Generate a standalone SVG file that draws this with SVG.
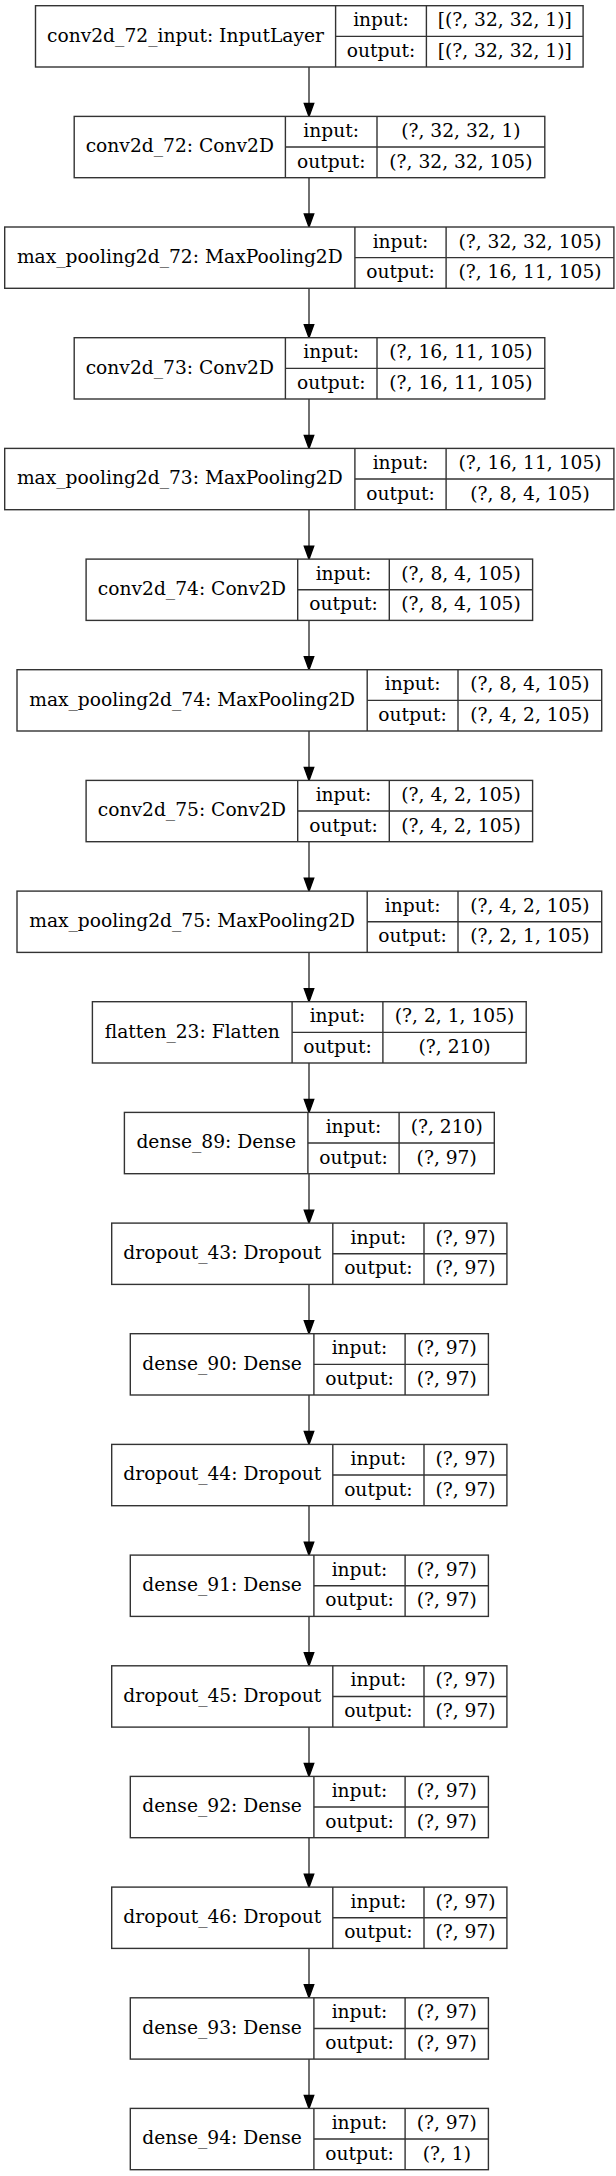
<svg xmlns="http://www.w3.org/2000/svg" width="616" height="2176" viewBox="0 0 616 2176">
<style>
rect.b{fill:#fff;stroke:#333;stroke-width:1.4}
line.s{stroke:#333;stroke-width:1.4}
text{font-family:"DejaVu Serif","Liberation Serif",serif;font-size:18.67px;fill:#000;text-anchor:middle}
.e line{stroke:#333;stroke-width:1.4}
.e polygon{fill:#000;stroke:#000;stroke-width:1.4}
</style>
<rect width="616" height="2176" fill="#fff"/>
<g class="e" id="connectors">
<line x1="309" y1="67" x2="309" y2="103.4"/><polygon points="304.3,103.4 313.7,103.4 309,116.4"/>
<line x1="309" y1="177.7" x2="309" y2="214"/><polygon points="304.3,214 313.7,214 309,227"/>
<line x1="309" y1="288.3" x2="309" y2="324.7"/><polygon points="304.3,324.7 313.7,324.7 309,337.7"/>
<line x1="309" y1="399" x2="309" y2="435.4"/><polygon points="304.3,435.4 313.7,435.4 309,448.4"/>
<line x1="309" y1="509.7" x2="309" y2="546.1"/><polygon points="304.3,546.1 313.7,546.1 309,559.1"/>
<line x1="309" y1="620.4" x2="309" y2="656.7"/><polygon points="304.3,656.7 313.7,656.7 309,669.7"/>
<line x1="309" y1="731" x2="309" y2="767.4"/><polygon points="304.3,767.4 313.7,767.4 309,780.4"/>
<line x1="309" y1="841.7" x2="309" y2="878.1"/><polygon points="304.3,878.1 313.7,878.1 309,891.1"/>
<line x1="309" y1="952.4" x2="309" y2="988.7"/><polygon points="304.3,988.7 313.7,988.7 309,1001.7"/>
<line x1="309" y1="1063" x2="309" y2="1099.4"/><polygon points="304.3,1099.4 313.7,1099.4 309,1112.4"/>
<line x1="309" y1="1173.7" x2="309" y2="1210.1"/><polygon points="304.3,1210.1 313.7,1210.1 309,1223.1"/>
<line x1="309" y1="1284.4" x2="309" y2="1320.7"/><polygon points="304.3,1320.7 313.7,1320.7 309,1333.7"/>
<line x1="309" y1="1395" x2="309" y2="1431.4"/><polygon points="304.3,1431.4 313.7,1431.4 309,1444.4"/>
<line x1="309" y1="1505.7" x2="309" y2="1542.1"/><polygon points="304.3,1542.1 313.7,1542.1 309,1555.1"/>
<line x1="309" y1="1616.4" x2="309" y2="1652.8"/><polygon points="304.3,1652.8 313.7,1652.8 309,1665.8"/>
<line x1="309" y1="1727.1" x2="309" y2="1763.4"/><polygon points="304.3,1763.4 313.7,1763.4 309,1776.4"/>
<line x1="309" y1="1837.7" x2="309" y2="1874.1"/><polygon points="304.3,1874.1 313.7,1874.1 309,1887.1"/>
<line x1="309" y1="1948.4" x2="309" y2="1984.8"/><polygon points="304.3,1984.8 313.7,1984.8 309,1997.8"/>
<line x1="309" y1="2059.1" x2="309" y2="2095.4"/><polygon points="304.3,2095.4 313.7,2095.4 309,2108.4"/>
</g>

<g id="conv2d_72_input" transform="translate(0,5.7)">
<rect class="b" x="35.5" y="0" width="547.6" height="61.3"/>
<line class="s" x1="335.6" y1="0" x2="335.6" y2="61.3"/><line class="s" x1="426.4" y1="0" x2="426.4" y2="61.3"/><line class="s" x1="335.6" y1="30.65" x2="583.1" y2="30.65"/>
<text x="185.5" y="36">conv2d_72_input: InputLayer</text>
<text x="381" y="20.6">input:</text><text x="504.7" y="20.6">[(?, 32, 32, 1)]</text>
<text x="381" y="51.3">output:</text><text x="504.7" y="51.3">[(?, 32, 32, 1)]</text>
</g>

<g id="conv2d_72" transform="translate(0,116.4)">
<rect class="b" x="74.2" y="0" width="470.6" height="61.3"/>
<line class="s" x1="285.4" y1="0" x2="285.4" y2="61.3"/><line class="s" x1="377" y1="0" x2="377" y2="61.3"/><line class="s" x1="285.4" y1="30.65" x2="544.8" y2="30.65"/>
<text x="179.8" y="36">conv2d_72: Conv2D</text>
<text x="331.2" y="20.6">input:</text><text x="460.9" y="20.6">(?, 32, 32, 1)</text>
<text x="331.2" y="51.3">output:</text><text x="460.9" y="51.3">(?, 32, 32, 105)</text>
</g>

<g id="max_pooling2d_72" transform="translate(0,227)">
<rect class="b" x="4.7" y="0" width="609.2" height="61.3"/>
<line class="s" x1="354.9" y1="0" x2="354.9" y2="61.3"/><line class="s" x1="446.1" y1="0" x2="446.1" y2="61.3"/><line class="s" x1="354.9" y1="30.65" x2="613.9" y2="30.65"/>
<text x="179.8" y="36">max_pooling2d_72: MaxPooling2D</text>
<text x="400.5" y="20.6">input:</text><text x="530" y="20.6">(?, 32, 32, 105)</text>
<text x="400.5" y="51.3">output:</text><text x="530" y="51.3">(?, 16, 11, 105)</text>
</g>

<g id="conv2d_73" transform="translate(0,337.7)">
<rect class="b" x="74.2" y="0" width="470.6" height="61.3"/>
<line class="s" x1="285.4" y1="0" x2="285.4" y2="61.3"/><line class="s" x1="377" y1="0" x2="377" y2="61.3"/><line class="s" x1="285.4" y1="30.65" x2="544.8" y2="30.65"/>
<text x="179.8" y="36">conv2d_73: Conv2D</text>
<text x="331.2" y="20.6">input:</text><text x="460.9" y="20.6">(?, 16, 11, 105)</text>
<text x="331.2" y="51.3">output:</text><text x="460.9" y="51.3">(?, 16, 11, 105)</text>
</g>

<g id="max_pooling2d_73" transform="translate(0,448.4)">
<rect class="b" x="4.7" y="0" width="609.2" height="61.3"/>
<line class="s" x1="354.9" y1="0" x2="354.9" y2="61.3"/><line class="s" x1="446.1" y1="0" x2="446.1" y2="61.3"/><line class="s" x1="354.9" y1="30.65" x2="613.9" y2="30.65"/>
<text x="179.8" y="36">max_pooling2d_73: MaxPooling2D</text>
<text x="400.5" y="20.6">input:</text><text x="530" y="20.6">(?, 16, 11, 105)</text>
<text x="400.5" y="51.3">output:</text><text x="530" y="51.3">(?, 8, 4, 105)</text>
</g>

<g id="conv2d_74" transform="translate(0,559.1)">
<rect class="b" x="86.1" y="0" width="446.5" height="61.3"/>
<line class="s" x1="297.7" y1="0" x2="297.7" y2="61.3"/><line class="s" x1="389.3" y1="0" x2="389.3" y2="61.3"/><line class="s" x1="297.7" y1="30.65" x2="532.6" y2="30.65"/>
<text x="191.9" y="36">conv2d_74: Conv2D</text>
<text x="343.5" y="20.6">input:</text><text x="461" y="20.6">(?, 8, 4, 105)</text>
<text x="343.5" y="51.3">output:</text><text x="461" y="51.3">(?, 8, 4, 105)</text>
</g>

<g id="max_pooling2d_74" transform="translate(0,669.7)">
<rect class="b" x="17" y="0" width="584.7" height="61.3"/>
<line class="s" x1="367.2" y1="0" x2="367.2" y2="61.3"/><line class="s" x1="458" y1="0" x2="458" y2="61.3"/><line class="s" x1="367.2" y1="30.65" x2="601.7" y2="30.65"/>
<text x="192.1" y="36">max_pooling2d_74: MaxPooling2D</text>
<text x="412.6" y="20.6">input:</text><text x="529.9" y="20.6">(?, 8, 4, 105)</text>
<text x="412.6" y="51.3">output:</text><text x="529.9" y="51.3">(?, 4, 2, 105)</text>
</g>

<g id="conv2d_75" transform="translate(0,780.4)">
<rect class="b" x="86.1" y="0" width="446.5" height="61.3"/>
<line class="s" x1="297.7" y1="0" x2="297.7" y2="61.3"/><line class="s" x1="389.3" y1="0" x2="389.3" y2="61.3"/><line class="s" x1="297.7" y1="30.65" x2="532.6" y2="30.65"/>
<text x="191.9" y="36">conv2d_75: Conv2D</text>
<text x="343.5" y="20.6">input:</text><text x="461" y="20.6">(?, 4, 2, 105)</text>
<text x="343.5" y="51.3">output:</text><text x="461" y="51.3">(?, 4, 2, 105)</text>
</g>

<g id="max_pooling2d_75" transform="translate(0,891.1)">
<rect class="b" x="17" y="0" width="584.7" height="61.3"/>
<line class="s" x1="367.2" y1="0" x2="367.2" y2="61.3"/><line class="s" x1="458" y1="0" x2="458" y2="61.3"/><line class="s" x1="367.2" y1="30.65" x2="601.7" y2="30.65"/>
<text x="192.1" y="36">max_pooling2d_75: MaxPooling2D</text>
<text x="412.6" y="20.6">input:</text><text x="529.9" y="20.6">(?, 4, 2, 105)</text>
<text x="412.6" y="51.3">output:</text><text x="529.9" y="51.3">(?, 2, 1, 105)</text>
</g>

<g id="flatten_23" transform="translate(0,1001.7)">
<rect class="b" x="92.4" y="0" width="433.8" height="61.3"/>
<line class="s" x1="292.1" y1="0" x2="292.1" y2="61.3"/><line class="s" x1="382.9" y1="0" x2="382.9" y2="61.3"/><line class="s" x1="292.1" y1="30.65" x2="526.2" y2="30.65"/>
<text x="192.3" y="36">flatten_23: Flatten</text>
<text x="337.5" y="20.6">input:</text><text x="454.6" y="20.6">(?, 2, 1, 105)</text>
<text x="337.5" y="51.3">output:</text><text x="454.6" y="51.3">(?, 210)</text>
</g>

<g id="dense_89" transform="translate(0,1112.4)">
<rect class="b" x="124.4" y="0" width="369.9" height="61.3"/>
<line class="s" x1="307.9" y1="0" x2="307.9" y2="61.3"/><line class="s" x1="399.1" y1="0" x2="399.1" y2="61.3"/><line class="s" x1="307.9" y1="30.65" x2="494.3" y2="30.65"/>
<text x="216.2" y="36">dense_89: Dense</text>
<text x="353.5" y="20.6">input:</text><text x="446.7" y="20.6">(?, 210)</text>
<text x="353.5" y="51.3">output:</text><text x="446.7" y="51.3">(?, 97)</text>
</g>

<g id="dropout_43" transform="translate(0,1223.1)">
<rect class="b" x="111.7" y="0" width="395.2" height="61.3"/>
<line class="s" x1="332.8" y1="0" x2="332.8" y2="61.3"/><line class="s" x1="424" y1="0" x2="424" y2="61.3"/><line class="s" x1="332.8" y1="30.65" x2="506.9" y2="30.65"/>
<text x="222.3" y="36">dropout_43: Dropout</text>
<text x="378.4" y="20.6">input:</text><text x="465.5" y="20.6">(?, 97)</text>
<text x="378.4" y="51.3">output:</text><text x="465.5" y="51.3">(?, 97)</text>
</g>

<g id="dense_90" transform="translate(0,1333.7)">
<rect class="b" x="130.3" y="0" width="358.1" height="61.3"/>
<line class="s" x1="313.9" y1="0" x2="313.9" y2="61.3"/><line class="s" x1="405.1" y1="0" x2="405.1" y2="61.3"/><line class="s" x1="313.9" y1="30.65" x2="488.4" y2="30.65"/>
<text x="222.1" y="36">dense_90: Dense</text>
<text x="359.5" y="20.6">input:</text><text x="446.8" y="20.6">(?, 97)</text>
<text x="359.5" y="51.3">output:</text><text x="446.8" y="51.3">(?, 97)</text>
</g>

<g id="dropout_44" transform="translate(0,1444.4)">
<rect class="b" x="111.7" y="0" width="395.2" height="61.3"/>
<line class="s" x1="332.8" y1="0" x2="332.8" y2="61.3"/><line class="s" x1="424" y1="0" x2="424" y2="61.3"/><line class="s" x1="332.8" y1="30.65" x2="506.9" y2="30.65"/>
<text x="222.3" y="36">dropout_44: Dropout</text>
<text x="378.4" y="20.6">input:</text><text x="465.5" y="20.6">(?, 97)</text>
<text x="378.4" y="51.3">output:</text><text x="465.5" y="51.3">(?, 97)</text>
</g>

<g id="dense_91" transform="translate(0,1555.1)">
<rect class="b" x="130.3" y="0" width="358.1" height="61.3"/>
<line class="s" x1="313.9" y1="0" x2="313.9" y2="61.3"/><line class="s" x1="405.1" y1="0" x2="405.1" y2="61.3"/><line class="s" x1="313.9" y1="30.65" x2="488.4" y2="30.65"/>
<text x="222.1" y="36">dense_91: Dense</text>
<text x="359.5" y="20.6">input:</text><text x="446.8" y="20.6">(?, 97)</text>
<text x="359.5" y="51.3">output:</text><text x="446.8" y="51.3">(?, 97)</text>
</g>

<g id="dropout_45" transform="translate(0,1665.8)">
<rect class="b" x="111.7" y="0" width="395.2" height="61.3"/>
<line class="s" x1="332.8" y1="0" x2="332.8" y2="61.3"/><line class="s" x1="424" y1="0" x2="424" y2="61.3"/><line class="s" x1="332.8" y1="30.65" x2="506.9" y2="30.65"/>
<text x="222.3" y="36">dropout_45: Dropout</text>
<text x="378.4" y="20.6">input:</text><text x="465.5" y="20.6">(?, 97)</text>
<text x="378.4" y="51.3">output:</text><text x="465.5" y="51.3">(?, 97)</text>
</g>

<g id="dense_92" transform="translate(0,1776.4)">
<rect class="b" x="130.3" y="0" width="358.1" height="61.3"/>
<line class="s" x1="313.9" y1="0" x2="313.9" y2="61.3"/><line class="s" x1="405.1" y1="0" x2="405.1" y2="61.3"/><line class="s" x1="313.9" y1="30.65" x2="488.4" y2="30.65"/>
<text x="222.1" y="36">dense_92: Dense</text>
<text x="359.5" y="20.6">input:</text><text x="446.8" y="20.6">(?, 97)</text>
<text x="359.5" y="51.3">output:</text><text x="446.8" y="51.3">(?, 97)</text>
</g>

<g id="dropout_46" transform="translate(0,1887.1)">
<rect class="b" x="111.7" y="0" width="395.2" height="61.3"/>
<line class="s" x1="332.8" y1="0" x2="332.8" y2="61.3"/><line class="s" x1="424" y1="0" x2="424" y2="61.3"/><line class="s" x1="332.8" y1="30.65" x2="506.9" y2="30.65"/>
<text x="222.3" y="36">dropout_46: Dropout</text>
<text x="378.4" y="20.6">input:</text><text x="465.5" y="20.6">(?, 97)</text>
<text x="378.4" y="51.3">output:</text><text x="465.5" y="51.3">(?, 97)</text>
</g>

<g id="dense_93" transform="translate(0,1997.8)">
<rect class="b" x="130.3" y="0" width="358.1" height="61.3"/>
<line class="s" x1="313.9" y1="0" x2="313.9" y2="61.3"/><line class="s" x1="405.1" y1="0" x2="405.1" y2="61.3"/><line class="s" x1="313.9" y1="30.65" x2="488.4" y2="30.65"/>
<text x="222.1" y="36">dense_93: Dense</text>
<text x="359.5" y="20.6">input:</text><text x="446.8" y="20.6">(?, 97)</text>
<text x="359.5" y="51.3">output:</text><text x="446.8" y="51.3">(?, 97)</text>
</g>

<g id="dense_94" transform="translate(0,2108.4)">
<rect class="b" x="130.3" y="0" width="358.1" height="61.3"/>
<line class="s" x1="313.9" y1="0" x2="313.9" y2="61.3"/><line class="s" x1="405.1" y1="0" x2="405.1" y2="61.3"/><line class="s" x1="313.9" y1="30.65" x2="488.4" y2="30.65"/>
<text x="222.1" y="36">dense_94: Dense</text>
<text x="359.5" y="20.6">input:</text><text x="446.8" y="20.6">(?, 97)</text>
<text x="359.5" y="51.3">output:</text><text x="446.8" y="51.3">(?, 1)</text>
</g>
</svg>
